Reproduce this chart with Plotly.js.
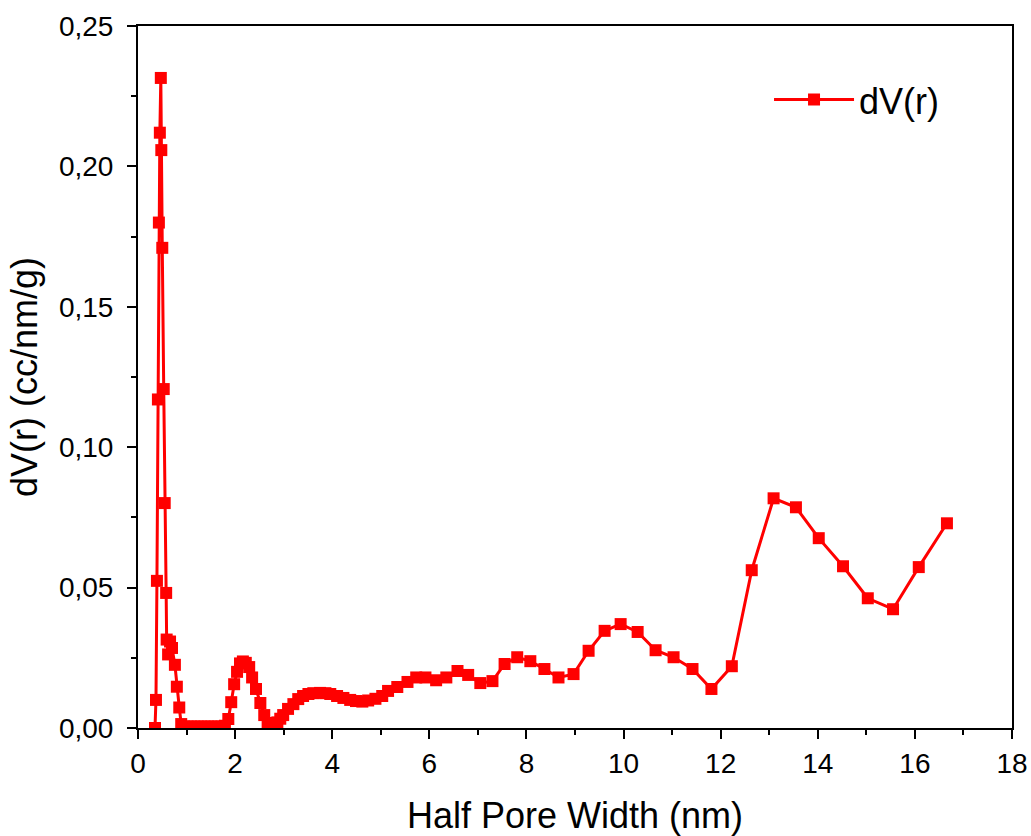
<!DOCTYPE html>
<html>
<head>
<meta charset="utf-8">
<script src="https://cdn.plot.ly/plotly-3.0.1.min.js"></script>
<style>html,body{margin:0;padding:0;background:#fff;}#chart{width:1031px;height:836px;}</style>
</head>
<body>
<div id="chart"></div>
<script>
const halfPoreWidth = [
  0.35, 0.37, 0.39, 0.41, 0.43, 0.45, 0.47, 0.48, 0.50, 0.53, 0.55, 0.58,
  0.59, 0.62, 0.66, 0.70, 0.76, 0.80, 0.85, 0.89,
  0.95, 1.02, 1.09, 1.16, 1.23, 1.30, 1.37, 1.44, 1.51, 1.58, 1.65, 1.72, 1.79,
  1.86, 1.92, 1.98, 2.04, 2.10, 2.16, 2.22, 2.29, 2.35, 2.43, 2.52, 2.60, 2.67, 2.74, 2.80, 2.87,
  2.93, 2.99, 3.09, 3.20, 3.30, 3.40, 3.51, 3.61, 3.75, 3.86, 3.96, 4.10, 4.23, 4.37, 4.49, 4.62,
  4.74, 4.89, 5.03, 5.15, 5.34, 5.55, 5.73, 5.92, 6.14, 6.35, 6.58, 6.80, 7.05, 7.30, 7.55, 7.81,
  8.08, 8.37, 8.66, 8.97, 9.28, 9.61, 9.94, 10.29, 10.66, 11.03, 11.42, 11.81, 12.23, 12.64,
  13.09, 13.55, 14.02, 14.52, 15.03, 15.55, 16.08, 16.66
];
const dVr = [
  0.0000, 0.0100, 0.0524, 0.1170, 0.1800, 0.2120, 0.2315, 0.2058, 0.1710, 0.1207, 0.0801, 0.0481,
  0.0315, 0.0262, 0.0308, 0.0285, 0.0225, 0.0147, 0.0073, 0.0014,
  0.0005, 0.0005, 0.0005, 0.0005, 0.0005, 0.0005, 0.0005, 0.0005, 0.0005, 0.0005, 0.0005, 0.0005, 0.0008,
  0.0032, 0.0092, 0.0156, 0.0200, 0.0230, 0.0237, 0.0232, 0.0217, 0.0180, 0.0139, 0.0089, 0.0046, 0.0018, 0.0007, 0.0009, 0.0020,
  0.0033, 0.0046, 0.0068, 0.0085, 0.0103, 0.0114, 0.0121, 0.0124, 0.0125, 0.0124, 0.0121, 0.0114, 0.0107, 0.0100, 0.0096, 0.0094,
  0.0098, 0.0104, 0.0114, 0.0132, 0.0146, 0.0164, 0.0180, 0.0180, 0.0170, 0.0180, 0.0203, 0.0189, 0.0160, 0.0167, 0.0228, 0.0252,
  0.0238, 0.0210, 0.0180, 0.0192, 0.0275, 0.0346, 0.0370, 0.0342, 0.0277, 0.0252, 0.0210, 0.0139, 0.0220, 0.0562,
  0.0818, 0.0786, 0.0676, 0.0576, 0.0462, 0.0423, 0.0573, 0.0729
];
const seriesName = "dV(r)";
const xTitle = "Half Pore Width (nm)";
const yTitle = "dV(r) (cc/nm/g)";

const trace = {
  x: halfPoreWidth, y: dVr, name: seriesName,
  type: "scatter", mode: "lines+markers",
  line: {color: "#ff0000", width: 3},
  marker: {symbol: "square", size: 12, color: "#ff0000"}
};

const fam = "Liberation Sans, Arial, sans-serif";
const axisFont = {family: fam, size: 28, color: "#000"};
const layout = {
  width: 1031, height: 836,
  margin: {l: 138, r: 19, t: 26, b: 108},
  paper_bgcolor: "#fff", plot_bgcolor: "#fff",
  separators: ", ",
  showlegend: true,
  legend: {x: 0.722, y: 0.895, xanchor: "left", yanchor: "middle", itemwidth: 80,
           font: {family: fam, size: 36, color: "#000"},
           bgcolor: "rgba(0,0,0,0)"},
  xaxis: {
    range: [0, 18], dtick: 2, tick0: 0, tickformat: "d",
    showline: true, linecolor: "#000", linewidth: 2, mirror: true,
    ticks: "outside", ticklen: 9, tickwidth: 2, tickcolor: "#000",
    minor: {dtick: 1, ticks: "outside", ticklen: 5, tickwidth: 2, tickcolor: "#000", showgrid: false},
    showgrid: false, zeroline: false,
    tickfont: axisFont,
    title: {text: xTitle, font: {family: fam, size: 36, color: "#000"}, standoff: 26}
  },
  yaxis: {
    range: [0, 0.25], dtick: 0.05, tick0: 0, tickformat: ".2f",
    showline: true, linecolor: "#000", linewidth: 2, mirror: true,
    ticks: "outside", ticklen: 9, tickwidth: 2, tickcolor: "#000",
    ticklabelstandoff: 8,
    minor: {dtick: 0.025, ticks: "outside", ticklen: 5, tickwidth: 2, tickcolor: "#000", showgrid: false},
    showgrid: false, zeroline: false,
    tickfont: axisFont,
    title: {text: yTitle, font: {family: fam, size: 36, color: "#000"}, standoff: 10}
  }
};

Plotly.newPlot("chart", [trace], layout, {displayModeBar: false, staticPlot: true});
</script>
</body>
</html>
